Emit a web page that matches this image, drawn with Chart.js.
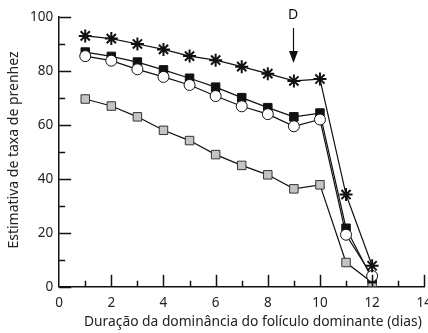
<!DOCTYPE html>
<html>
<head>
<meta charset="utf-8">
<script src="https://cdn.jsdelivr.net/npm/chart.js@4.4.1/dist/chart.umd.min.js"></script>
<style>
  html, body { margin: 0; padding: 0; background: #fff; }
  #wrap { width: 428px; height: 333px; overflow: hidden; position: relative; }
  canvas { position: absolute; left: 0; top: 0; }
</style>
</head>
<body>
<div id="wrap"><canvas id="grafico" width="440" height="333"></canvas></div>
<script>
// dados
var dias = [1, 2, 3, 4, 5, 6, 7, 8, 9, 10, 11, 12];
var serieEstrela = [93, 92, 90, 88, 85.5, 84, 81.6, 79, 76.3, 77, 34.2, 7.8];
var serieQuadradoPreto = [87, 85.4, 83.3, 80.4, 77.3, 74, 70.1, 66.4, 63, 64.4, 21.7, 3];
var serieCirculo = [85.5, 83.8, 80.6, 77.8, 74.8, 70.7, 66.9, 64, 59.5, 62, 19.3, 4];
var serieQuadradoCinza = [69.6, 67, 63, 58, 54.2, 49, 45, 41.5, 36.3, 37.8, 9, 1.6];

var ticksX = [0, 2, 4, 6, 8, 10, 12, 14];
var ticksY = [0, 20, 40, 60, 80, 100];
var marcaD = 9; // dia marcado com a seta "D"
var tituloX = 'Duração da dominância do folículo dominante (dias)';
var tituloY = 'Estimativa de taxa de prenhez';

function pontos(valores) {
    return dias.map(function (d, i) { return { x: d, y: valores[i] }; });
}

var fonte = "'Noto Sans', 'Open Sans', sans-serif";

// marcas dos eixos para dentro, titulos e seta D
var marcasPlugin = {
    id: 'marcas',
    afterDraw: function (chart) {
        var c = chart.ctx, sx = chart.scales.x, sy = chart.scales.y;
        var area = chart.chartArea;
        var left = area.left, bottom = area.bottom;
        c.save();
        c.strokeStyle = '#111';
        c.lineWidth = 1.5;
        for (var v = 0; v <= 100; v += 10) {
            var py = Math.round(sy.getPixelForValue(v)) + 0.5;
            var len = (v % 20 === 0) ? 12 : 6;
            c.beginPath(); c.moveTo(left, py); c.lineTo(left + len, py); c.stroke();
        }
        for (var d = 1; d <= 14; d++) {
            var px = Math.round(sx.getPixelForValue(d)) + 0.5;
            var l2 = (d % 2 === 0) ? 12 : 6;
            c.beginPath(); c.moveTo(px, bottom); c.lineTo(px, bottom - l2); c.stroke();
        }
        // seta D
        var ax = Math.round(sx.getPixelForValue(marcaD)) - 0.5;
        c.lineWidth = 1.2;
        c.beginPath(); c.moveTo(ax, 28); c.lineTo(ax, 56); c.stroke();
        c.fillStyle = '#111';
        c.beginPath(); c.moveTo(ax - 4.5, 51); c.lineTo(ax + 4.5, 51); c.lineTo(ax, 63); c.closePath(); c.fill();
        c.font = "14px " + fonte;
        c.textAlign = 'center';
        c.textBaseline = 'middle';
        c.fillText('D', ax - 0.5, 15);

        // titulos dos eixos
        c.fillStyle = '#222';
        c.font = "13.8px " + fonte;
        c.fillText(tituloX, sx.getPixelForValue(7.43), 322);
        c.font = "14px " + fonte;
        c.translate(14, 150);
        c.rotate(-Math.PI / 2);
        c.fillText(tituloY, 0, 0);
        c.restore();
    }
};

var comum = {
    borderColor: '#111',
    borderWidth: 1.2,
    pointBorderColor: '#111',
    pointBorderWidth: 1,
    tension: 0
};

new Chart(document.getElementById('grafico').getContext('2d'), {
    type: 'line',
    data: {
        datasets: [
            Object.assign({ data: pontos(serieEstrela), pointStyle: 'star', pointRadius: 6.5, pointBackgroundColor: '#111' }, comum, { pointBorderWidth: 2 }),
            Object.assign({ data: pontos(serieCirculo), pointStyle: 'circle', pointRadius: 5.5, pointBackgroundColor: '#fff' }, comum),
            Object.assign({ data: pontos(serieQuadradoPreto), pointStyle: 'rect', pointRadius: 6, pointBackgroundColor: '#111' }, comum),
            Object.assign({ data: pontos(serieQuadradoCinza), pointStyle: 'rect', pointRadius: 6, pointBackgroundColor: '#c4c4c4' }, comum, { pointBorderColor: '#333' })
        ]
    },
    options: {
        responsive: false,
        animation: false,
        layout: { padding: { top: 17, left: 24, right: 0, bottom: 14 } },
        plugins: { legend: { display: false }, tooltip: { enabled: false } },
        scales: {
            x: {
                type: 'linear',
                min: 0, max: 14,
                grid: { display: false, drawTicks: false },
                border: { display: true, color: '#111', width: 1.5 },
                afterBuildTicks: function (s) { s.ticks = ticksX.map(function (v) { return { value: v }; }); },
                ticks: { color: '#222', font: { family: fonte, size: 13.5 }, padding: 8, maxRotation: 0 }
            },
            y: {
                min: 0, max: 100,
                grid: { display: false, drawTicks: false },
                border: { display: true, color: '#111', width: 1.5 },
                afterBuildTicks: function (s) { s.ticks = ticksY.map(function (v) { return { value: v }; }); },
                ticks: { color: '#222', font: { family: fonte, size: 13.5 }, padding: 6 }
            }
        }
    },
    plugins: [marcasPlugin]
});
</script>
</body>
</html>
